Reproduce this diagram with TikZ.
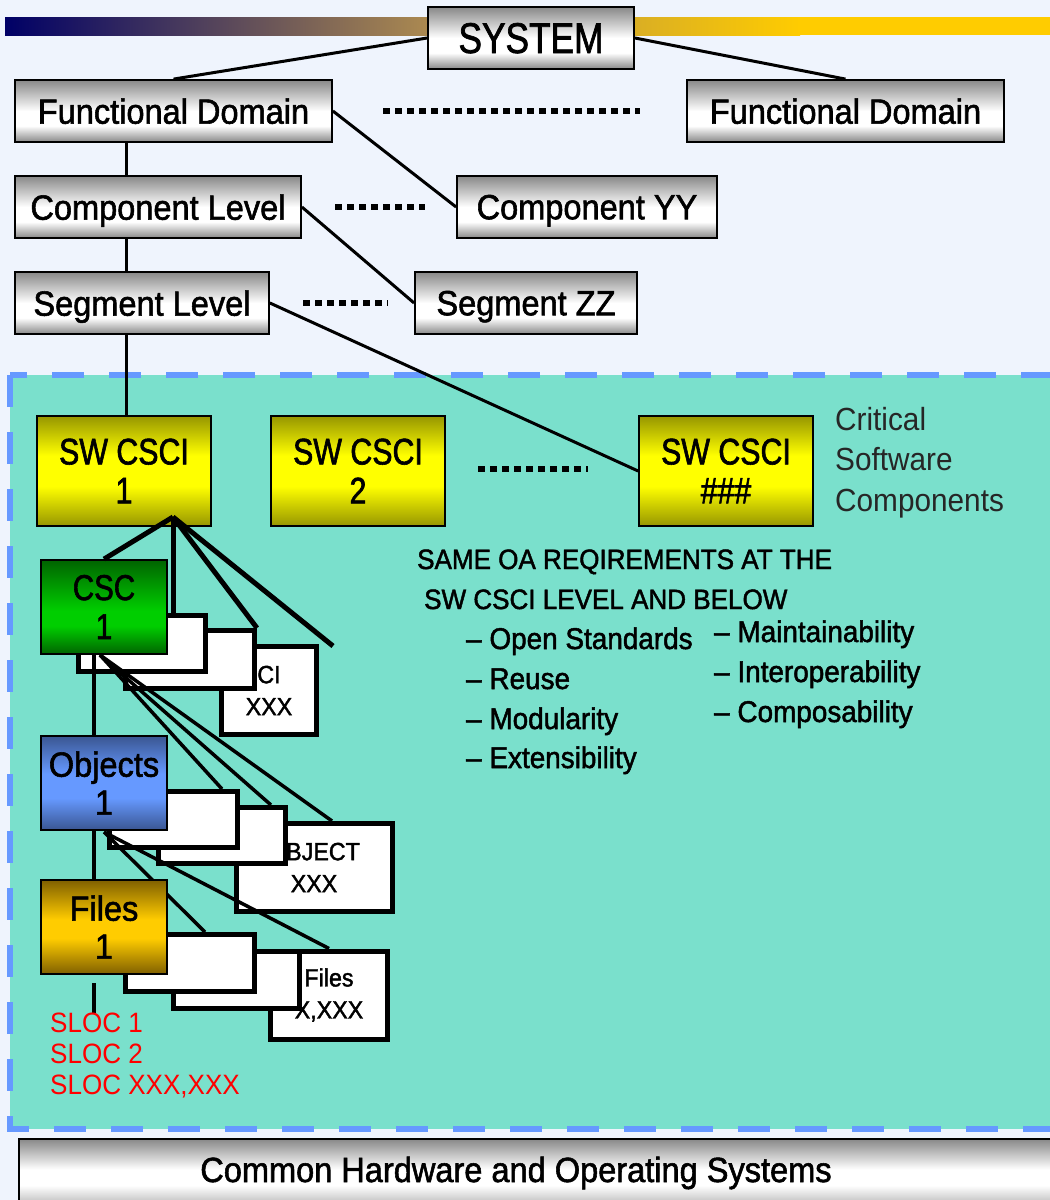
\documentclass[tikz,border=0pt]{standalone}
\usepackage{fontspec}
\setmainfont{Liberation Sans}
\newfontfamily\narf[FakeStretch=0.82,FakeBold=1.6]{Liberation Sans}
\newfontfamily\medf[FakeStretch=0.93,FakeBold=1.6]{Liberation Sans}
\newfontfamily\litf[FakeStretch=0.93]{Liberation Sans}
\usetikzlibrary{calc}
\newcommand{\fsz}[2]{\fontsize{#1pt}{#2pt}\selectfont}
\definecolor{bgc}{RGB}{239,244,253}
\definecolor{tealbg}{RGB}{122,224,204}
\definecolor{dashb}{RGB}{102,153,255}
\definecolor{navyA}{RGB}{0,0,102}
\definecolor{tanA}{RGB}{172,138,80}
\definecolor{goldA}{RGB}{255,204,0}
\definecolor{mgray}{RGB}{136,136,136}
\definecolor{yol}{RGB}{150,150,0}
\definecolor{yel}{RGB}{255,255,0}
\definecolor{gdk}{RGB}{0,100,0}
\definecolor{gbr}{RGB}{0,206,0}
\definecolor{bdk}{RGB}{58,86,146}
\definecolor{bbr}{RGB}{102,153,255}
\definecolor{odk}{RGB}{128,96,0}
\definecolor{obr}{RGB}{255,204,0}
\definecolor{slocred}{RGB}{255,0,0}
\pgfdeclareverticalshading{metal}{100bp}{color(0bp)=(mgray); color(25bp)=(mgray); color(38bp)=(white); color(50bp)=(white); color(75bp)=(mgray); color(100bp)=(mgray)}
\pgfdeclareverticalshading{metalbar}{100bp}{color(0bp)=(mgray); color(25bp)=(mgray); color(46bp)=(white); color(56bp)=(white); color(75bp)=(mgray); color(100bp)=(mgray)}
\pgfdeclareverticalshading{yshade}{100bp}{color(0bp)=(yol); color(25bp)=(yol); color(43bp)=(yel); color(57bp)=(yel); color(75bp)=(yol); color(100bp)=(yol)}
\pgfdeclareverticalshading{gshade}{100bp}{color(0bp)=(gdk); color(25bp)=(gdk); color(40bp)=(gbr); color(48bp)=(gbr); color(75bp)=(gdk); color(100bp)=(gdk)}
\pgfdeclareverticalshading{bshade}{100bp}{color(0bp)=(bdk); color(25bp)=(bdk); color(42bp)=(bbr); color(55bp)=(bbr); color(75bp)=(bdk); color(100bp)=(bdk)}
\pgfdeclareverticalshading{oshade}{100bp}{color(0bp)=(odk); color(25bp)=(odk); color(44bp)=(obr); color(54bp)=(obr); color(75bp)=(odk); color(100bp)=(odk)}
\begin{document}
\begin{tikzpicture}[x=1pt,y=-1pt,
  mbox/.style={draw=black, line width=1.8pt, shade, shading=metal, inner sep=0pt, minimum height=62pt, text depth=0pt, font=\medf\fsz{35}{40}},
  ybox/.style={draw=black, line width=1.8pt, shade, shading=yshade, inner sep=0pt, minimum width=174pt, minimum height=110pt, align=center, font=\narf\fsz{37}{39}},
  cbox/.style={draw=black, line width=1.8pt, shade, inner sep=0pt, minimum width=126pt, minimum height=94pt, align=center},
  wbox/.style={draw=black, line width=5pt, fill=white, inner sep=0pt, align=center, font=\medf\fsz{25}{32}},
  tline/.style={line width=3pt},
  fanline/.style={line width=5pt},
  subline/.style={line width=3.5pt},
  dotline/.style={line width=5.5pt, dash pattern=on 7pt off 5pt},
  txt/.style={anchor=base west, inner sep=0pt},
]
\useasboundingbox (0,0) rectangle (1050,1200);
% background
\fill[bgc] (0,0) rectangle (1050,1200);
% top gradient bar
\shade[left color=navyA, right color=tanA] (5,17) rectangle (430,35);
\shade[left color=tanA, right color=goldA] (429.5,17) rectangle (800,35);
\fill[goldA] (799.5,17) rectangle (1050,35);
% teal region
\fill[tealbg] (10,375) rectangle (1060,1129);
\draw[dashb, line width=6pt, dash pattern=on 32pt off 25pt] (10,375) rectangle (1060,1129);
% bottom bar
\node[draw=black, line width=2pt, shade, shading=metalbar, anchor=north west, minimum width=1050pt, minimum height=80pt, inner sep=0pt] (hwbar) at (18,1138) {};
\node[anchor=base, inner sep=0pt, font=\medf\fsz{35}{35}] (hwtxt) at (516,1182) {Common Hardware and Operating Systems};
% coordinates
\coordinate (tx) at (126,0);
\coordinate (vx) at (94,0);
\coordinate (ap1) at (173,517);
\coordinate (fe4) at (333,646);
\coordinate (ap2) at (100,655);
\coordinate (ap3) at (104,832);
\coordinate (sl0) at (94,983);
\coordinate (sl1) at (94,1013);
\coordinate (d1a) at (383,111); \coordinate (d1b) at (640,111);
\coordinate (d2a) at (335,207); \coordinate (d2b) at (425,207);
\coordinate (d3a) at (303,303); \coordinate (d3b) at (388,303);
\coordinate (d4a) at (478,469); \coordinate (d4b) at (588,469);
% top tree boxes
\node[mbox, minimum width=206pt, font=\narf\fsz{43}{48}] (sys) at (531,38) {SYSTEM};
\node[mbox, minimum width=317pt] (fd1) at (173.5,111) {Functional Domain};
\node[mbox, minimum width=317pt] (fd2) at (845.5,111) {Functional Domain};
\node[mbox, minimum width=286pt] (cl) at (158,207) {Component Level};
\node[mbox, minimum width=260pt] (cyy) at (587,207) {Component YY};
\node[mbox, minimum width=254pt] (sl) at (142,303) {Segment Level};
\node[mbox, minimum width=222pt] (szz) at (526,303) {Segment ZZ};
% CSCI boxes
\node[ybox] (csci1) at (124,471) {SW CSCI\\1};
\node[ybox] (csci2) at (358,471) {SW CSCI\\2};
\node[ybox] (csci3) at (726,471) {SW CSCI\\\#\#\#};
% tree connectors
\draw[tline] (sys.west) -- (fd1.north);
\draw[tline] (sys.east) -- (fd2.north);
\draw[tline] (tx |- fd1.south) -- (tx |- cl.north);
\draw[tline] (tx |- cl.south) -- (tx |- sl.north);
\draw[tline] (tx |- sl.south) -- (tx |- csci1.north);
\draw[tline] (fd1.east) -- (cyy.west);
\draw[tline] (cl.east) -- (szz.west);
\draw[tline] (sl.east) -- (csci3.west);
\draw[dotline] (d1a) -- (d1b);
\draw[dotline] (d2a) -- (d2b);
\draw[dotline] (d3a) -- (d3b);
\draw[dotline] (d4a) -- (d4b);
% labels
\node[txt, font=\litf\fsz{32}{32}, text=black!85] (cr1) at (835,430) {Critical};
\node[txt, font=\litf\fsz{32}{32}, text=black!85] (cr2) at (835,470) {Software};
\node[txt, font=\litf\fsz{32}{32}, text=black!85] (cr3) at (835,511) {Components};
\node[txt, font=\medf\fsz{28}{28}] (rq1) at (417,569) {SAME OA REQIREMENTS AT THE};
\node[txt, font=\medf\fsz{28}{28}] (rq2) at (424,609) {SW CSCI LEVEL AND BELOW};
\node[txt, font=\medf\fsz{30}{30}] (b1) at (466,649) {– Open Standards};
\node[txt, font=\medf\fsz{30}{30}] (b2) at (466,689) {– Reuse};
\node[txt, font=\medf\fsz{30}{30}] (b3) at (466,729) {– Modularity};
\node[txt, font=\medf\fsz{30}{30}] (b4) at (466,768) {– Extensibility};
\node[txt, font=\medf\fsz{30}{30}] (b5) at (714,642) {– Maintainability};
\node[txt, font=\medf\fsz{30}{30}] (b6) at (714,682) {– Interoperability};
\node[txt, font=\medf\fsz{30}{30}] (b7) at (714,722) {– Composability};
% white stacked boxes (back to front)
\node[wbox, minimum width=95pt, minimum height=88pt] (wc) at (269,690.5) {CI\\XXX};
\node[wbox, minimum width=129pt, minimum height=58pt] (wb) at (190,659.5) {};
\node[wbox, minimum width=127pt, minimum height=56pt] (wa) at (142,643.5) {};
\node[wbox, minimum width=156pt, minimum height=88pt] (wf) at (314,867.5) {OBJECT\\XXX};
\node[wbox, minimum width=127pt, minimum height=56pt] (we) at (222,835.5) {};
\node[wbox, minimum width=128pt, minimum height=56pt] (wd) at (173.5,819.5) {};
\node[wbox, minimum width=117pt, minimum height=88pt] (wi) at (329,995) {Files\\X,XXX};
\node[wbox, minimum width=126pt, minimum height=57pt] (wh) at (236.5,980) {};
\node[wbox, minimum width=129pt, minimum height=57pt] (wg) at (190,963) {};
% CSC and Objects boxes
\node[cbox, shading=gshade, font=\narf\fsz{36}{39}] (csc) at (104,607) {CSC\\1};
\node[cbox, shading=bshade, font=\medf\fsz{35}{38}] (obj) at (104,783) {Objects\\1};
% connectors from CSC
\draw[subline] (ap2) -- ($(wd.north east)+(-18,0)$);
\draw[subline] (ap2) -- ($(we.north east)+(-17,0)$);
\draw[subline] (ap2) -- ($(wf.north)+(18,0)$);
% connectors from Objects
\draw[subline] (ap3) -- ($(wg.north)+(15,0)$);
\draw[subline] (ap3) -- (wi.north);
% fan from SW CSCI 1
\draw[fanline] (ap1) -- (csc.north);
\draw[fanline] (ap1) -- (ap1 |- wa.north);
\draw[fanline] (ap1) -- (wb.north east);
\draw[fanline] (ap1) -- (fe4);
% Files box
\node[cbox, shading=oshade, font=\medf\fsz{35}{38}] (fil) at (104,927) {Files\\1};
% vertical links
\draw[subline] (vx |- csc.south) -- (vx |- obj.north);
\draw[subline] (vx |- obj.south) -- (vx |- fil.north);
\draw[subline] (sl0) -- (sl1);
% SLOC texts
\node[txt, text=slocred, font=\litf\fsz{28}{28}] (s1) at (50,1032) {SLOC 1};
\node[txt, text=slocred, font=\litf\fsz{28}{28}] (s2) at (50,1063) {SLOC 2};
\node[txt, text=slocred, font=\litf\fsz{28}{28}] (s3) at (50,1094) {SLOC XXX,XXX};
\end{tikzpicture}
\end{document}
